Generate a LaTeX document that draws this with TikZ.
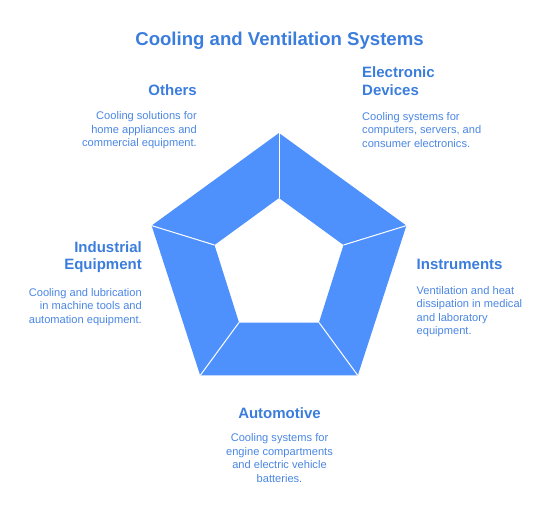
\documentclass[tikz,border=0pt]{standalone}
\usepackage{fontspec}
\setmainfont{Liberation Sans}
\definecolor{segblue}{HTML}{4F91FC}
\definecolor{titleblue}{HTML}{3B7DDD}
\definecolor{textblue}{HTML}{4A86E3}
\begin{document}
\begin{tikzpicture}[x=1pt,y=-1pt,
  maintitle/.style={font=\fontsize{18.6}{21}\selectfont\bfseries, text=titleblue, inner sep=0pt},
  heading/.style={font=\fontsize{15}{17.8}\selectfont\bfseries, text=titleblue, inner sep=0pt},
  body/.style={font=\fontsize{11.1}{13.6}\selectfont, text=textblue, inner sep=0pt},
  sep/.style={draw=white, line width=1pt},
]
\useasboundingbox (0,0) rectangle (550,523);

% outer vertices
\coordinate (OT) at (279,133);
\coordinate (OR) at (406.4,225.6);
\coordinate (OBR) at (357.8,375.4);
\coordinate (OBL) at (200.2,375.4);
\coordinate (OL) at (151.6,225.6);
% inner vertices
\coordinate (IT) at (279,198);
\coordinate (IR) at (343.5,245);
\coordinate (IBR) at (319,322.5);
\coordinate (IBL) at (239,322.5);
\coordinate (IL) at (214.5,245);

\fill[segblue, even odd rule] (OT) -- (OR) -- (OBR) -- (OBL) -- (OL) -- cycle
  (IT) -- (IR) -- (IBR) -- (IBL) -- (IL) -- cycle;
\draw[sep] (IT) -- (OT);
\draw[sep] (IR) -- (OR);
\draw[sep] (IBR) -- (OBR);
\draw[sep] (IBL) -- (OBL);
\draw[sep] (IL) -- (OL);

\node[maintitle] (title) at (279.5,40.5) {Cooling and Ventilation Systems};

\node[heading, anchor=north east] (othersH) at (197,84.3) {Others};
\node[body, anchor=north east, align=right] (othersB) at (197,111.5) {Cooling solutions for\\home appliances and\\commercial equipment.};

\node[heading, anchor=north west, align=left] (elecH) at (362,66.8) {Electronic\\Devices};
\node[body, anchor=north west, align=left] (elecB) at (362,111.8) {Cooling systems for\\computers, servers, and\\consumer electronics.};

\node[heading, anchor=north east, align=right] (indH) at (142,241) {Industrial\\Equipment};
\node[body, anchor=north east, align=right] (indB) at (142,287.8) {Cooling and lubrication\\in machine tools and\\automation equipment.};

\node[heading, anchor=north west] (instH) at (416.5,259.3) {Instruments};
\node[body, anchor=north west, align=left] (instB) at (416.5,285.8) {Ventilation and heat\\dissipation in medical\\and laboratory\\equipment.};

\node[heading, anchor=north] (autoH) at (279.5,407.3) {Automotive};
\node[body, anchor=north, align=center] (autoB) at (279.5,433.5) {Cooling systems for\\engine compartments\\and electric vehicle\\batteries.};
\end{tikzpicture}
\end{document}
